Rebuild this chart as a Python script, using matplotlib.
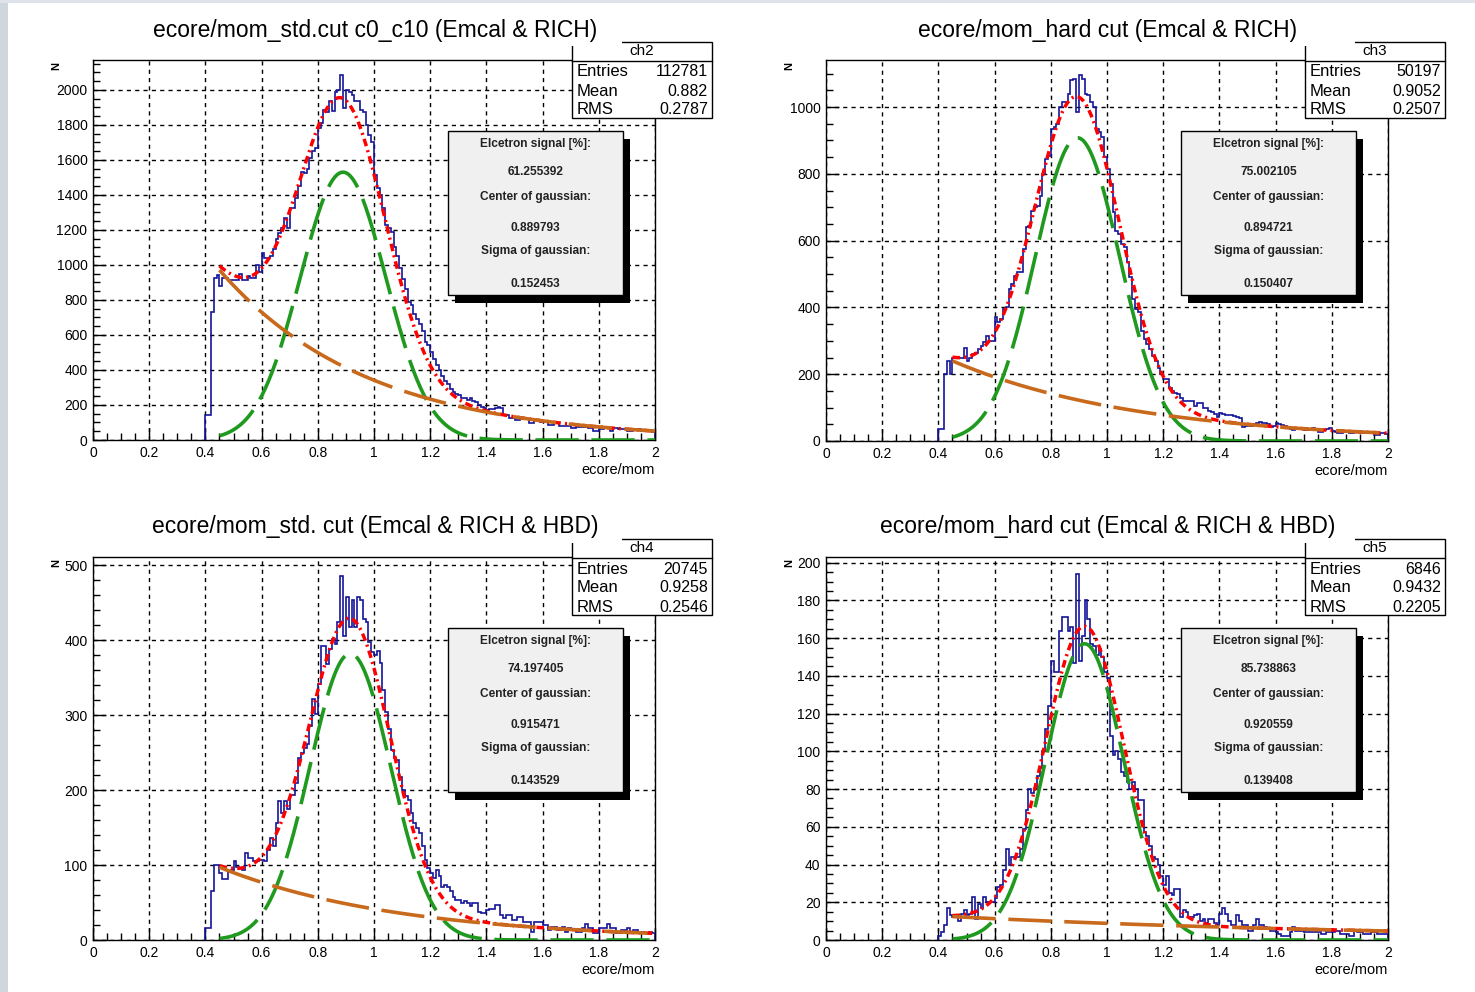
import numpy as np
import matplotlib
matplotlib.use('Agg')
import matplotlib.pyplot as plt
from matplotlib.patches import Rectangle
from matplotlib.lines import Line2D
from matplotlib.ticker import MultipleLocator, FuncFormatter

plt.rcParams['font.family'] = ['Liberation Sans', 'DejaVu Sans']

W, H = 1475, 992

# histogram binning: 0.40 .. 2.00, width 0.01
bin_lo, bin_hi, nbins = 0.40, 2.00, 160

titles = ['ecore/mom_std.cut c0_c10 (Emcal & RICH)',
          'ecore/mom_hard cut (Emcal & RICH)',
          'ecore/mom_std. cut (Emcal & RICH & HBD)',
          'ecore/mom_hard cut (Emcal & RICH & HBD)']
hist_names = ['ch2', 'ch3', 'ch4', 'ch5']
entries = ['112781', '50197', '20745', '6846']
means = ['0.882', '0.9052', '0.9258', '0.9432']
rmss = ['0.2787', '0.2507', '0.2546', '0.2205']
signal = ['61.255392', '75.002105', '74.197405', '85.738863']
centers = ['0.889793', '0.894721', '0.915471', '0.920559']
sigmas = ['0.152453', '0.150407', '0.143529', '0.139408']

# fit components: gaus amplitude, expo exp(p0) and slope
gaus_amp = [1530, 908, 382, 157]
expo_norm = [2283, 471, 195, 16.4]
expo_slope = [-1.9, -1.5, -1.55, -0.62]
fit_lo, fit_hi = 0.45, 2.0

ch2_counts = [143, 143, 730, 924, 940, 880, 924, 924, 915, 915,
              915, 915, 950, 915, 915, 935, 925, 925, 1000, 960,
              1067, 1040, 1040, 1050, 1090, 1150, 1180, 1210, 1267, 1210,
              1324, 1324, 1380, 1450, 1533, 1525, 1550, 1610, 1650, 1667,
              1780, 1810, 1886, 1876, 1934, 1880, 1990, 2000, 2086, 1895,
              2000, 1990, 1970, 1935, 1934, 1885, 1876, 1800, 1743, 1700,
              1515, 1440, 1400, 1324, 1230, 1210, 1190, 1100, 1050, 981,
              920, 860, 790, 771, 720, 690, 660, 620, 560, 543,
              500, 465, 430, 400, 365, 335, 320, 290, 275, 265,
              255, 238, 238, 230, 240, 220, 219, 200, 191, 185,
              171, 175, 175, 180, 189, 180, 145, 140, 126, 126,
              116, 116, 120, 118, 118, 97, 97, 116, 116, 105,
              105, 100, 87, 87, 97, 97, 80, 78, 78, 78,
              69, 69, 72, 72, 72, 72, 67, 67, 53, 53,
              63, 63, 67, 67, 53, 67, 67, 63, 63, 63,
              53, 53, 57, 63, 63, 53, 53, 57, 57, 44]

ch3_counts = [35, 35, 200, 240, 200, 250, 250, 250, 250, 280,
              240, 250, 260, 265, 275, 285, 295, 315, 300, 300,
              370, 355, 365, 395, 400, 455, 470, 495, 505, 505,
              575, 640, 645, 690, 700, 705, 735, 800, 845, 855,
              935, 940, 950, 1000, 1015, 1015, 1040, 1080, 1085, 985,
              1095, 1085, 1040, 1037, 1015, 1000, 935, 925, 910, 850,
              815, 770, 685, 630, 620, 590, 580, 535, 490, 425,
              395, 385, 330, 305, 290, 275, 255, 240, 220, 200,
              185, 185, 160, 150, 145, 140, 130, 120, 120, 120,
              120, 105, 115, 115, 100, 100, 90, 88, 80, 73,
              83, 80, 78, 78, 78, 75, 73, 70, 43, 45,
              48, 45, 50, 55, 58, 55, 53, 50, 43, 45,
              53, 50, 48, 46, 43, 35, 33, 38, 36, 35,
              33, 33, 35, 38, 36, 28, 28, 33, 35, 38,
              30, 28, 23, 23, 28, 28, 23, 25, 28, 28,
              23, 23, 28, 28, 25, 18, 18, 23, 23, 20]

ch4_counts = [16, 16, 65, 100, 100, 90, 82, 81, 91, 93,
              105, 98, 96, 93, 116, 109, 109, 105, 105, 107,
              107, 106, 120, 136, 125, 156, 185, 170, 185, 175,
              193, 194, 210, 243, 250, 256, 262, 285, 321, 301,
              341, 392, 392, 368, 388, 401, 395, 424, 485, 406,
              457, 418, 453, 418, 457, 453, 428, 424, 397, 384,
              380, 385, 370, 334, 304, 281, 254, 243, 240, 218,
              200, 192, 187, 169, 156, 150, 143, 125, 107, 96,
              90, 83, 94, 85, 71, 74, 71, 65, 58, 54,
              54, 49, 52, 50, 45, 50, 49, 38, 36, 36,
              40, 41, 41, 47, 47, 33, 29, 33, 33, 27,
              27, 31, 31, 24, 24, 24, 11, 24, 24, 24,
              20, 20, 13, 18, 18, 13, 13, 18, 11, 16,
              14, 14, 11, 11, 16, 22, 16, 16, 9, 9,
              16, 16, 16, 22, 16, 16, 9, 9, 13, 13,
              16, 11, 13, 13, 11, 11, 9, 9, 11, 9]

ch5_counts = [2, 4, 8, 17, 13, 12, 12, 10, 14, 16,
              13, 14, 23, 11, 19, 17, 23, 20, 20, 20,
              22, 28, 29, 37, 48, 40, 44, 44, 44, 48,
              59, 69, 80, 78, 80, 87, 91, 100, 112, 124,
              148, 142, 142, 164, 171, 171, 164, 166, 147, 194,
              148, 161, 180, 170, 157, 156, 151, 154, 150, 142,
              139, 108, 98, 100, 96, 89, 87, 84, 80, 84,
              80, 74, 74, 57, 55, 50, 44, 43, 40, 34,
              29, 34, 25, 24, 27, 27, 12, 16, 15, 12,
              12, 13, 14, 10, 11, 9, 11, 11, 9, 8,
              14, 17, 14, 10, 8, 8, 13, 10, 8, 8,
              5, 5, 8, 11, 8, 8, 7, 6, 5, 5,
              4, 3, 2, 2, 2, 4, 7, 5, 5, 5,
              4, 4, 4, 4, 4, 4, 3, 3, 4, 4,
              4, 5, 5, 3, 3, 3, 2, 2, 5, 4,
              4, 3, 3, 3, 4, 4, 3, 3, 3, 3]

all_counts = [ch2_counts, ch3_counts, ch4_counts, ch5_counts]

# layout in pixels: frame (left, top, right, bottom), y max, major/minor y step
frames = [(93, 60, 655, 440), (826, 60, 1388, 441),
          (93, 557, 655, 940), (826, 557, 1388, 940)]
ymaxes = [2171, 1141, 511, 203]
ymajor = [200, 200, 100, 20]
yminor = [50, 50, 20, 5]

fig = plt.figure(figsize=(W / 100, H / 100), dpi=100)
fig.patch.set_facecolor('white')


def fx(x):
    return x / W


def fy(y):
    return 1 - y / H


def prect(x0, y0, x1, y1, **kw):
    r = Rectangle((fx(x0), fy(y1)), (x1 - x0) / W, (y1 - y0) / H,
                  transform=fig.transFigure, **kw)
    fig.add_artist(r)
    return r


def pline(xs, ys, **kw):
    fig.add_artist(Line2D([fx(v) for v in xs], [fy(v) for v in ys],
                          transform=fig.transFigure, **kw))


# slide background strip on the left
prect(0, 0, 8, H, facecolor='#cfd6de', edgecolor='none', zorder=0)
prect(0, 0, W, 3, facecolor='#dfe4ea', edgecolor='none', zorder=0)

edges = np.linspace(bin_lo, bin_hi, nbins + 1)
xf = np.linspace(fit_lo, fit_hi, 400)

for k in range(4):
    l, t, r, b = frames[k]
    ax = fig.add_axes([fx(l), fy(b), (r - l) / W, (b - t) / H])
    ax.set_xlim(0, 2)
    ax.set_ylim(0, ymaxes[k])

    counts = np.array(all_counts[k], dtype=float)
    ax.stairs(counts, edges, baseline=0, color='#14149a', lw=1.2, zorder=3)

    mu = float(centers[k])
    sg = float(sigmas[k])
    g = gaus_amp[k] * np.exp(-0.5 * ((xf - mu) / sg) ** 2)
    e = expo_norm[k] * np.exp(expo_slope[k] * xf)
    ax.plot(xf, g + e, color='red', lw=2.5, linestyle=(0, (2.2, 1.2, 0.6, 1.2)), zorder=4)
    ax.plot(xf, g, color='#1f9a1f', lw=2.6, linestyle=(0, (12, 3.5)), zorder=5)
    ax.plot(xf, e, color='#c8691c', lw=2.6, linestyle=(0, (12, 3.5)), zorder=5)

    ax.xaxis.set_major_locator(MultipleLocator(0.2))
    ax.xaxis.set_minor_locator(MultipleLocator(0.05))
    ax.yaxis.set_major_locator(MultipleLocator(ymajor[k]))
    ax.yaxis.set_minor_locator(MultipleLocator(yminor[k]))
    ax.xaxis.set_major_formatter(FuncFormatter(lambda v, p: f'{v:g}'))
    ax.yaxis.set_major_formatter(FuncFormatter(lambda v, p: f'{v:g}'))
    ax.grid(True, which='major', color='black', lw=1.0, linestyle=(0, (3, 3)))
    ax.set_axisbelow(True)
    ax.tick_params(which='both', direction='in', top=False, right=False,
                   labelsize=10, width=1, colors='black')
    ax.tick_params(which='major', length=9, pad=4)
    ax.tick_params(which='minor', length=5)
    for s in ax.spines.values():
        s.set_linewidth(1.0)
        s.set_color('black')

    # axis titles
    fig.text(fx(l - 37), fy(t + 6), 'N', rotation=90, fontsize=8,
             fontweight='bold', ha='center', va='center')
    fig.text(fx(r), fy(b + 30), 'ecore/mom', fontsize=10.5,
             ha='right', va='center')

    # title
    dx = l - 93
    dy = t - 60
    fig.text(fx(375 + dx), fy(30 + dy), titles[k], fontsize=16.5,
             ha='center', va='center', zorder=10)

    # stats box
    prect(572 + dx, 42 + dy, 712 + dx, 118 + dy, facecolor='white',
          edgecolor='black', lw=1.0, zorder=8)
    prect(130 + dx, 10 + dy, 622 + dx, 46 + dy, facecolor='white',
          edgecolor='none', zorder=9)
    pline([572 + dx, 712 + dx], [61 + dy, 61 + dy], color='black', lw=1.0, zorder=10)
    fig.text(fx(642 + dx), fy(51 + dy), hist_names[k], fontsize=11,
             ha='center', va='center', zorder=11)
    rows = [('Entries', entries[k]), ('Mean', means[k]), ('RMS', rmss[k])]
    for j, (lab, val) in enumerate(rows):
        yy = 72 + 19 * j + dy
        fig.text(fx(577 + dx), fy(yy), lab, fontsize=12, ha='left',
                 va='center', zorder=11)
        fig.text(fx(708 + dx), fy(yy), val, fontsize=11.5, ha='right',
                 va='center', zorder=11)

    # fit result pave with shadow
    px0, py0, px1, py1 = 448 + dx, 131 + dy, 623 + dx, 295 + dy
    prect(px0 + 7, py0 + 8, px1 + 7, py1 + 8, facecolor='black',
          edgecolor='none', zorder=8)
    prect(px0, py0, px1, py1, facecolor='#f0f0f0', edgecolor='black',
          lw=1.0, zorder=9)
    lines = ['Elcetron signal [%]:', signal[k], 'Center of gaussian:',
             centers[k], 'Sigma of gaussian:', sigmas[k]]
    ys = [144, 172, 197, 228, 251, 284]
    for txt, yy in zip(lines, ys):
        fig.text(fx((px0 + px1) / 2), fy(yy + dy), txt, fontsize=8.6,
                 fontweight='bold', color='#222222', ha='center',
                 va='center', zorder=11)

fig.savefig('out.png', dpi=100)
